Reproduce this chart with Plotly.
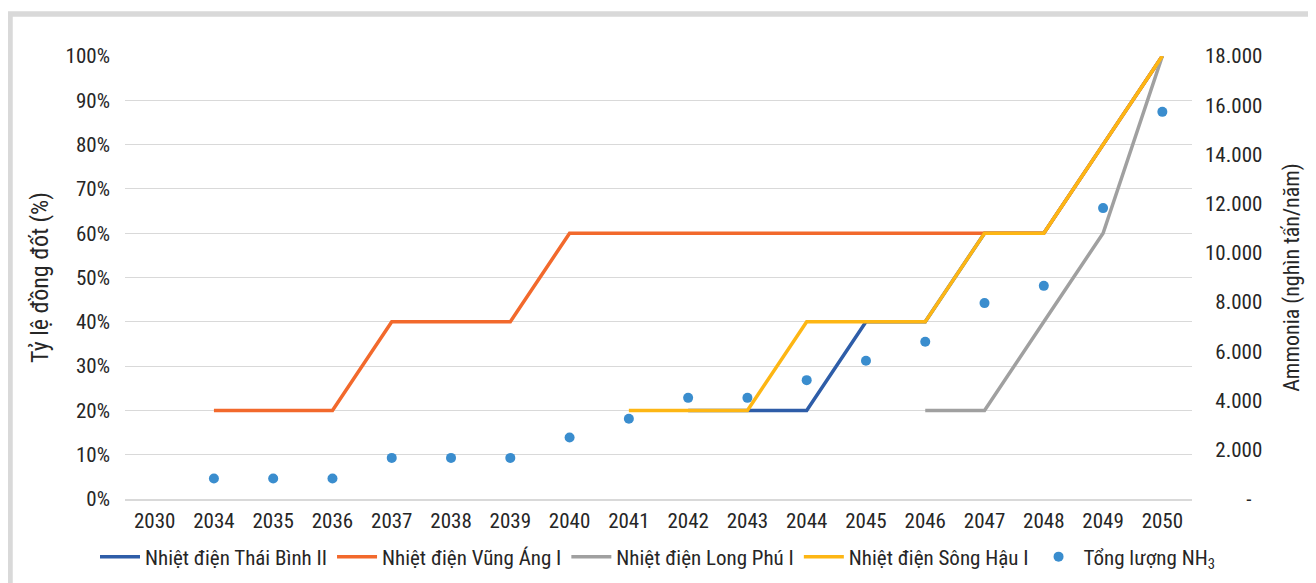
import plotly.graph_objects as go

years = ["2030", "2034", "2035", "2036", "2037", "2038", "2039", "2040", "2041",
         "2042", "2043", "2044", "2045", "2046", "2047", "2048", "2049", "2050"]

thai_binh = [None, None, None, None, None, None, None, None, None,
             0.20, 0.20, 0.20, 0.40, 0.40, 0.60, 0.60, 0.80, 1.00]
vung_ang = [None, 0.20, 0.20, 0.20, 0.40, 0.40, 0.40, 0.60, 0.60,
            0.60, 0.60, 0.60, 0.60, 0.60, 0.60, 0.60, 0.80, 1.00]
long_phu = [None, None, None, None, None, None, None, None, None,
            None, None, None, None, 0.20, 0.20, 0.40, 0.60, 1.00]
song_hau = [None, None, None, None, None, None, None, None, 0.20,
            0.20, 0.20, 0.40, 0.40, 0.40, 0.60, 0.60, 0.80, 1.00]
nh3_total = [None, 830, 830, 830, 1670, 1670, 1670, 2500, 3260,
             4110, 4110, 4830, 5620, 6390, 7960, 8660, 11820, 15730]

right_ticks = [0, 2000, 4000, 6000, 8000, 10000, 12000, 14000, 16000, 18000]
right_ticktext = ["\u2007\u2007\u2007\u2007-", "\u20072.000", "\u20074.000", "\u20076.000",
                  "\u20078.000", "10.000", "12.000", "14.000", "16.000", "18.000"]

FONT = "Roboto Condensed, Liberation Sans Narrow, sans-serif"
TXT = "#262626"

# the page body adds an 8px offset; figure is sized to fill the visible window
W, H = 1308, 575
L, R, T, B = 117, 124, 48, 84
PW, PH = W - L - R, H - T - B

fig = go.Figure()
series = [
    ("Nhiệt điện Thái Bình II", thai_binh, "#2E5DA8"),
    ("Nhiệt điện Vũng Áng I", vung_ang, "#F2692C"),
    ("Nhiệt điện Long Phú I", long_phu, "#A0A0A0"),
    ("Nhiệt điện Sông Hậu I", song_hau, "#FDB614"),
]
for name, vals, col in series:
    fig.add_trace(go.Scatter(x=years, y=vals, name=name, mode="lines",
                             line=dict(color=col, width=3.5), connectgaps=False))

fig.add_trace(go.Scatter(x=years, y=nh3_total, name="Tổng lượng NH<sub>3</sub>",
                         mode="markers", yaxis="y2",
                         marker=dict(color="#3A8DCE", size=10)))

# outer light-gray frame
fig.add_shape(type="rect", xref="paper", yref="paper",
              x0=(2 - L) / PW, x1=(W + 20 - L) / PW,
              y0=(T + PH - (H + 20)) / PH, y1=(T + PH - 6) / PH,
              line=dict(color="#D9D9D9", width=5.5), fillcolor="rgba(0,0,0,0)", layer="below")

fig.update_layout(
    width=W, height=H,
    margin=dict(l=L, r=R, t=T, b=B, autoexpand=False),
    paper_bgcolor="white", plot_bgcolor="white",
    font=dict(family=FONT, size=21, color=TXT),
    showlegend=True,
    legend=dict(orientation="h", x=(87 - L) / PW, xanchor="left",
                y=(T + PH - 549) / PH, yanchor="middle",
                font=dict(family=FONT, size=21, color=TXT), itemwidth=40, tracegroupgap=0,
                bgcolor="rgba(0,0,0,0)"),
    xaxis=dict(type="category", categoryorder="array", categoryarray=years, automargin=False,
               range=[-0.5, len(years) - 0.5],
               showgrid=False, zeroline=False, showline=True, linecolor="#D9D9D9", linewidth=1.5,
               ticks="", tickfont=dict(family=FONT, size=21, color=TXT), ticklabelstandoff=2),
    yaxis=dict(range=[0, 1], dtick=0.1, tickformat=".0%", showgrid=True, automargin=False,
               gridcolor="#D9D9D9", gridwidth=1, zeroline=False, ticks="",
               tickfont=dict(family=FONT, size=21, color=TXT), ticklabelstandoff=14,
               title=dict(text="Tỷ lệ đồng đốt (%)", font=dict(family=FONT, size=24, color=TXT), standoff=10)),
    yaxis2=dict(range=[0, 18000], overlaying="y", side="right", tickvals=right_ticks, automargin=False,
                ticktext=right_ticktext, showgrid=False, zeroline=False, ticks="",
                tickfont=dict(family=FONT, size=21, color=TXT), ticklabelstandoff=12,
                title=dict(text="Ammonia (nghìn tấn/năm)", font=dict(family=FONT, size=22, color=TXT), standoff=22)),
)

fig.write_html("out.html")
